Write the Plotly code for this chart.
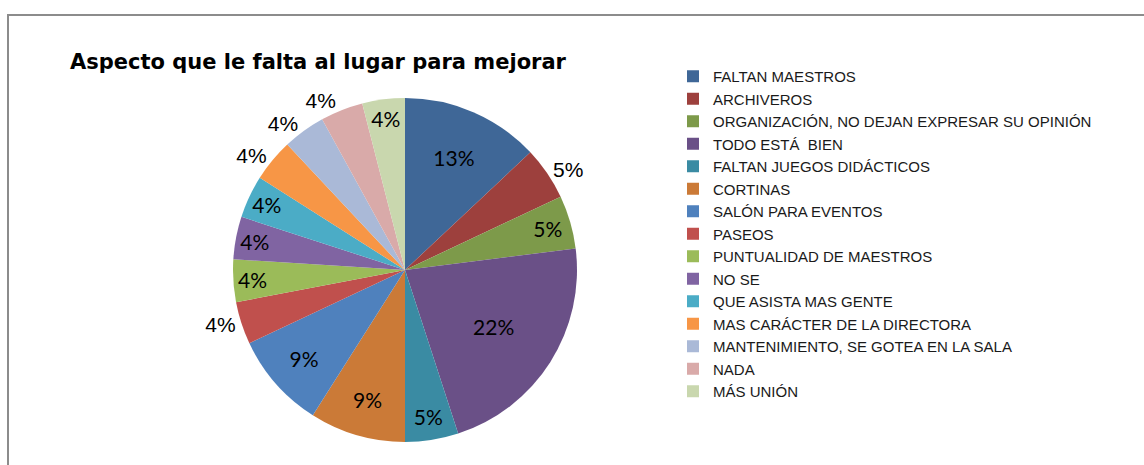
import plotly.graph_objects as go

title = "Aspecto que le falta al lugar para mejorar"
labels = [
    "FALTAN MAESTROS",
    "ARCHIVEROS",
    "ORGANIZACIÓN, NO DEJAN EXPRESAR SU OPINIÓN",
    "TODO ESTÁ  BIEN",
    "FALTAN JUEGOS DIDÁCTICOS",
    "CORTINAS",
    "SALÓN PARA EVENTOS",
    "PASEOS",
    "PUNTUALIDAD DE MAESTROS",
    "NO SE",
    "QUE ASISTA MAS GENTE",
    "MAS CARÁCTER DE LA DIRECTORA",
    "MANTENIMIENTO, SE GOTEA EN LA SALA",
    "NADA",
    "MÁS UNIÓN",
]
values = [13, 5, 5, 22, 5, 9, 9, 4, 4, 4, 4, 4, 4, 4, 4]
colors = [
    "#3F6797", "#9D403D", "#7D9A4A", "#6A5087", "#3A8BA3", "#CB7A37",
    "#4F81BD", "#C0504D", "#9BBB59", "#8064A2", "#4BACC6", "#F79646",
    "#AAB9D7", "#D9AAA9", "#C9D7AE",
]
label_pos = [
    "inside", "outside", "inside", "inside", "inside", "inside", "inside",
    "outside", "inside", "inside", "inside", "outside", "outside", "outside",
    "inside",
]

W, H = 1144, 465
cx, cy, d = 405, 270, 344

fig = go.Figure(
    go.Pie(
        labels=labels,
        values=values,
        sort=False,
        direction="clockwise",
        rotation=0,
        marker=dict(colors=colors, line=dict(width=0)),
        textinfo="percent",
        texttemplate="%{percent:.0%}",
        textposition=label_pos,
        insidetextorientation="horizontal",
        textfont=dict(family="Lato, Liberation Sans, sans-serif", size=21, color="#000000"),
        outsidetextfont=dict(family="Liberation Sans, Arial, sans-serif", size=17, color="#000000"),
        domain=dict(
            x=[(cx - d / 2) / W, (cx + d / 2) / W],
            y=[(H - cy - d / 2) / H, (H - cy + d / 2) / H],
        ),
        hoverinfo="label+percent",
    )
)

fig.update_layout(
    width=W,
    height=H,
    margin=dict(l=0, r=0, t=0, b=0),
    paper_bgcolor="#FFFFFF",
    plot_bgcolor="#FFFFFF",
    uniformtext=dict(minsize=21, mode="show"),
    title=dict(
        text=title,
        x=70 / W,
        xanchor="left",
        xref="paper",
        y=1 - 62 / H,
        yanchor="middle",
        yref="container",
        font=dict(family="DejaVu Sans, sans-serif", size=21, color="#000000", weight="bold"),
    ),
    legend=dict(
        x=673 / W,
        xanchor="left",
        y=1 - 234 / H,
        yanchor="middle",
        font=dict(family="Liberation Sans, Arial, sans-serif", size=15, color="#1a1a1a"),
        bgcolor="rgba(0,0,0,0)",
        traceorder="normal",
    ),
    shapes=[
        dict(
            type="rect",
            xref="paper",
            yref="paper",
            x0=8 / W,
            x1=1.02,
            y0=-0.02,
            y1=1 - 15 / H,
            line=dict(color="#8C8C8C", width=2),
            fillcolor="rgba(0,0,0,0)",
            layer="below",
        )
    ],
)

fig.write_html(
    "out.html",
    config={"displayModeBar": False},
    post_script="document.body.style.margin='0';document.body.style.padding='0';",
)
